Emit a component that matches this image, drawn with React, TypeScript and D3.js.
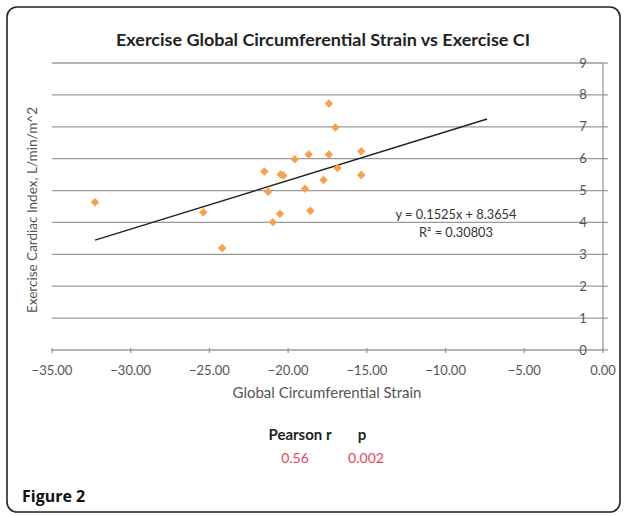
import React from "react";
import * as d3 from "d3";

// 散布図のデータ
const strain = [
  -32.27, -25.39, -24.19, -21.51, -21.27, -20.97, -20.52, -20.47, -20.31, -19.58,
  -18.93, -18.7, -18.59, -17.75, -17.41, -17.41, -17.0, -16.86, -15.36, -15.36,
];
const cardiacIndex = [
  4.63, 4.32, 3.2, 5.6, 4.96, 4.01, 4.27, 5.5, 5.47, 5.98,
  5.06, 6.13, 4.37, 5.33, 7.73, 6.13, 6.98, 5.71, 6.23, 5.49,
];
const xTicks = [-35, -30, -25, -20, -15, -10, -5, 0];
const yTicks = [0, 1, 2, 3, 4, 5, 6, 7, 8, 9];
// 近似直線の係数（Excelの表示値）と前方予測の期間
const slope = 0.1525;
const intercept = 8.3654;
const r2 = 0.30803;
const forward = 8;
const statLabels = ["Pearson r", "p"];
const statValues = ["0.56", "0.002"];

const font = "Lato, 'Open Sans', sans-serif";

export default function App() {
  const width = 624;
  const height = 516;
  const left = 52;
  const right = 603;
  const top = 63;
  const bottom = 350;

  const x = d3.scaleLinear().domain([-35, 0]).range([left, right]);
  const y = d3.scaleLinear().domain([0, 9]).range([bottom, top]);

  const x0 = d3.min(strain)!;
  const x1 = d3.max(strain)! + forward;
  const trend = d3
    .line<number>()
    .x((d) => x(d))
    .y((d) => y(slope * d + intercept));

  const diamond = d3.symbol().type(d3.symbolDiamond2).size(46)()!;
  const fmt = d3.format(".2f");

  return (
    <svg
      width={width}
      height={height}
      style={{ position: "absolute", left: 0, top: 0, background: "#fff" }}
      fontFamily={font}
    >
      {/* 外枠 */}
      <rect x={7} y={7} width={613} height={505} rx={10} fill="#fff" stroke="#222" strokeWidth={1.6} />

      <text x={323} y={46} textAnchor="middle" fontSize={17} fontWeight="bold" fill="#222"
        textLength={414} lengthAdjust="spacingAndGlyphs">
        Exercise Global Circumferential Strain vs Exercise CI
      </text>

      {/* 横グリッド線 */}
      {yTicks.map((t) => (
        <line key={t} x1={left} x2={right} y1={y(t)} y2={y(t)} stroke="#9a9a9a" strokeWidth={1.3} />
      ))}

      {/* 右側のy軸 */}
      <line x1={right} x2={right} y1={top} y2={bottom} stroke="#9a9a9a" strokeWidth={1.3} />
      {yTicks.map((t) => (
        <g key={t}>
          <line x1={right} x2={right + 5} y1={y(t)} y2={y(t)} stroke="#9a9a9a" strokeWidth={1.3} />
          <text x={583} y={y(t)} dy="0.35em" textAnchor="middle" fontSize={13} fill="#555">
            {t}
          </text>
        </g>
      ))}

      {/* x軸の目盛り */}
      {xTicks.map((t) => (
        <g key={t} transform={`translate(${x(t)},0)`}>
          <line y1={bottom - 2} y2={bottom + 3} stroke="#9a9a9a" strokeWidth={1.3} />
          <text y={370} dy="0.35em" textAnchor="middle" fontSize={13} fill="#555">
            {fmt(t)}
          </text>
        </g>
      ))}

      <text x={327} y={393} dy="0.35em" textAnchor="middle" fontSize={15} fill="#555">
        Global Circumferential Strain
      </text>
      <text
        transform={`translate(32,210) rotate(-90)`}
        dy="0.35em"
        textAnchor="middle"
        fontSize={13.5}
        fill="#555"
      >
        Exercise Cardiac Index, L/min/m^2
      </text>

      {/* 近似直線 */}
      <path d={trend([x0, x1]) ?? ""} stroke="#222" strokeWidth={1.4} fill="none" />

      {/* データ点 */}
      {strain.map((s, i) => (
        <path
          key={i}
          d={diamond}
          transform={`translate(${x(s)},${y(cardiacIndex[i])})`}
          fill="#f7a04e"
        />
      ))}

      <text x={456} y={215} dy="0.35em" textAnchor="middle" fontSize={12.8} fill="#333">
        {`y = ${slope}x + ${intercept}`}
      </text>
      <text x={456} y={233} dy="0.35em" textAnchor="middle" fontSize={12.8} fill="#333">
        {`R² = ${r2}`}
      </text>

      {/* 相関係数 */}
      <text x={300} y={435} dy="0.35em" textAnchor="middle" fontSize={15} fontWeight="bold" fill="#222">
        {statLabels[0]}
      </text>
      <text x={362} y={435} dy="0.35em" textAnchor="middle" fontSize={15} fontWeight="bold" fill="#222">
        {statLabels[1]}
      </text>
      <text x={295} y={458} dy="0.35em" textAnchor="middle" fontSize={14} fill="#e0465c">
        {statValues[0]}
      </text>
      <text x={366} y={458} dy="0.35em" textAnchor="middle" fontSize={14} fill="#e0465c">
        {statValues[1]}
      </text>

      <text x={22} y={502} fontSize={16} fontWeight="bold" fontFamily="'Open Sans', sans-serif" fill="#111">
        Figure 2
      </text>
    </svg>
  );
}
